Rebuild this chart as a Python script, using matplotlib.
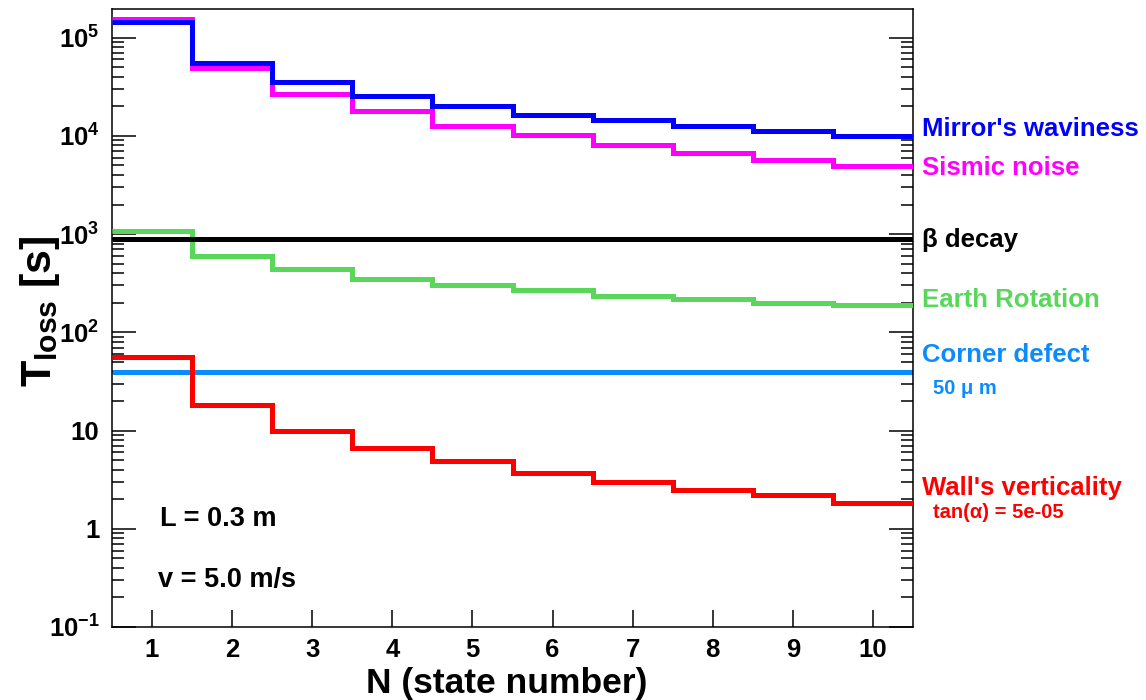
import numpy as np
import matplotlib
matplotlib.use("Agg")
import matplotlib.pyplot as plt
from matplotlib.ticker import FixedLocator, LogLocator, NullFormatter, NullLocator

plt.rcParams['font.family'] = ['Liberation Sans', 'DejaVu Sans']
plt.rcParams['font.weight'] = 'bold'
plt.rcParams['mathtext.fontset'] = 'custom'
plt.rcParams['mathtext.rm'] = 'Liberation Sans:bold'
plt.rcParams['mathtext.it'] = 'Liberation Sans:bold'
plt.rcParams['mathtext.bf'] = 'Liberation Sans:bold'

# ---- data ----
states = [1, 2, 3, 4, 5, 6, 7, 8, 9, 10]
mirror_waviness = [1.45e5, 5.5e4, 3.5e4, 2.54e4, 2.04e4, 1.65e4, 1.44e4, 1.26e4, 1.11e4, 1.0e4]
sismic_noise = [1.55e5, 4.9e4, 2.67e4, 1.8e4, 1.26e4, 1.01e4, 8.1e3, 6.76e3, 5.65e3, 4.94e3]
earth_rotation = [1080, 597, 443, 350, 307, 271, 234, 217, 199, 189]
wall_verticality = [56.5, 18.4, 9.9, 6.66, 4.91, 3.70, 2.99, 2.48, 2.19, 1.84]
beta_decay = 885.0
corner_defect = 39.4

ytick_values = [0.1, 1, 10, 100, 1e3, 1e4, 1e5]
ytick_labels = [r"$10^{-1}$", "1", "10", r"$10^{2}$", r"$10^{3}$", r"$10^{4}$", r"$10^{5}$"]

W, H = 1146, 700
fig = plt.figure(figsize=(W / 100, H / 100), dpi=100)
ax = fig.add_axes([112 / W, 1 - 627 / H, (913 - 112) / W, (627 - 9) / H])

edges = np.arange(len(states) + 1) + 0.5
lw = 3.6
c_green = '#5ad65a'
c_azure = '#0a8cff'

ax.stairs(mirror_waviness, edges, color='#0000ff', lw=lw, baseline=None, zorder=4)
ax.stairs(sismic_noise, edges, color='#ff00ff', lw=lw, baseline=None, zorder=3)
ax.stairs(earth_rotation, edges, color=c_green, lw=lw, baseline=None, zorder=3)
ax.stairs(wall_verticality, edges, color='#ff0000', lw=lw, baseline=None, zorder=3)
ax.hlines(beta_decay, edges[0], edges[-1], color='black', lw=lw, zorder=4)
ax.hlines(corner_defect, edges[0], edges[-1], color=c_azure, lw=lw, zorder=2)

ax.set_yscale('log')
ax.set_xlim(edges[0], edges[-1])
ax.set_ylim(0.1, 1.96e5)

ax.yaxis.set_major_locator(FixedLocator(ytick_values))
ax.set_yticklabels(ytick_labels)
ax.yaxis.set_minor_locator(LogLocator(base=10, subs=np.arange(2, 10), numticks=20))
ax.yaxis.set_minor_formatter(NullFormatter())
ax.set_xticks(states)
ax.xaxis.set_minor_locator(NullLocator())

ax.tick_params(axis='y', which='major', direction='in', length=17, width=1.1,
               left=True, right=True, labelsize=18.5, pad=9)
ax.tick_params(axis='y', which='minor', direction='in', length=8.5, width=1.1,
               left=True, right=True)
ax.tick_params(axis='x', which='major', direction='in', length=12, width=1.1,
               labelsize=18.5, pad=8)
for s in ax.spines.values():
    s.set_linewidth(1.1)

def fx(px):
    return px / W

def fy(py):
    return 1 - py / H

fig.text(fx(40), fy(311), r"$T_{loss}$ [s]", rotation=90, ha='center', va='center',
         fontsize=31, fontweight='bold')
fig.text(fx(507), fy(683), "N (state number)", ha='center', va='center',
         fontsize=25.5, fontweight='bold')

fs = 18.5
fig.text(fx(922), fy(129), "Mirror's waviness", color='#0000ff', fontsize=fs, va='center', ha='left')
fig.text(fx(922), fy(168), "Sismic noise", color='#ff00ff', fontsize=fs, va='center', ha='left')
fig.text(fx(922), fy(240), "β decay", color='black', fontsize=fs, va='center', ha='left')
fig.text(fx(922), fy(300), "Earth Rotation", color=c_green, fontsize=fs, va='center', ha='left')
fig.text(fx(922), fy(355), "Corner defect", color=c_azure, fontsize=fs, va='center', ha='left')
fig.text(fx(933), fy(388), "50 μ m", color=c_azure, fontsize=14.5, va='center', ha='left')
fig.text(fx(922), fy(488), "Wall's verticality", color='#ff0000', fontsize=fs, va='center', ha='left')
fig.text(fx(933), fy(513), "tan(α) = 5e-05", color='#ff0000', fontsize=14.5, va='center', ha='left')

fig.text(fx(160), fy(519), "L = 0.3 m", fontsize=19.5, va='center', ha='left')
fig.text(fx(158), fy(580), "v = 5.0 m/s", fontsize=19.5, va='center', ha='left')

fig.savefig("out.png", dpi=100)
